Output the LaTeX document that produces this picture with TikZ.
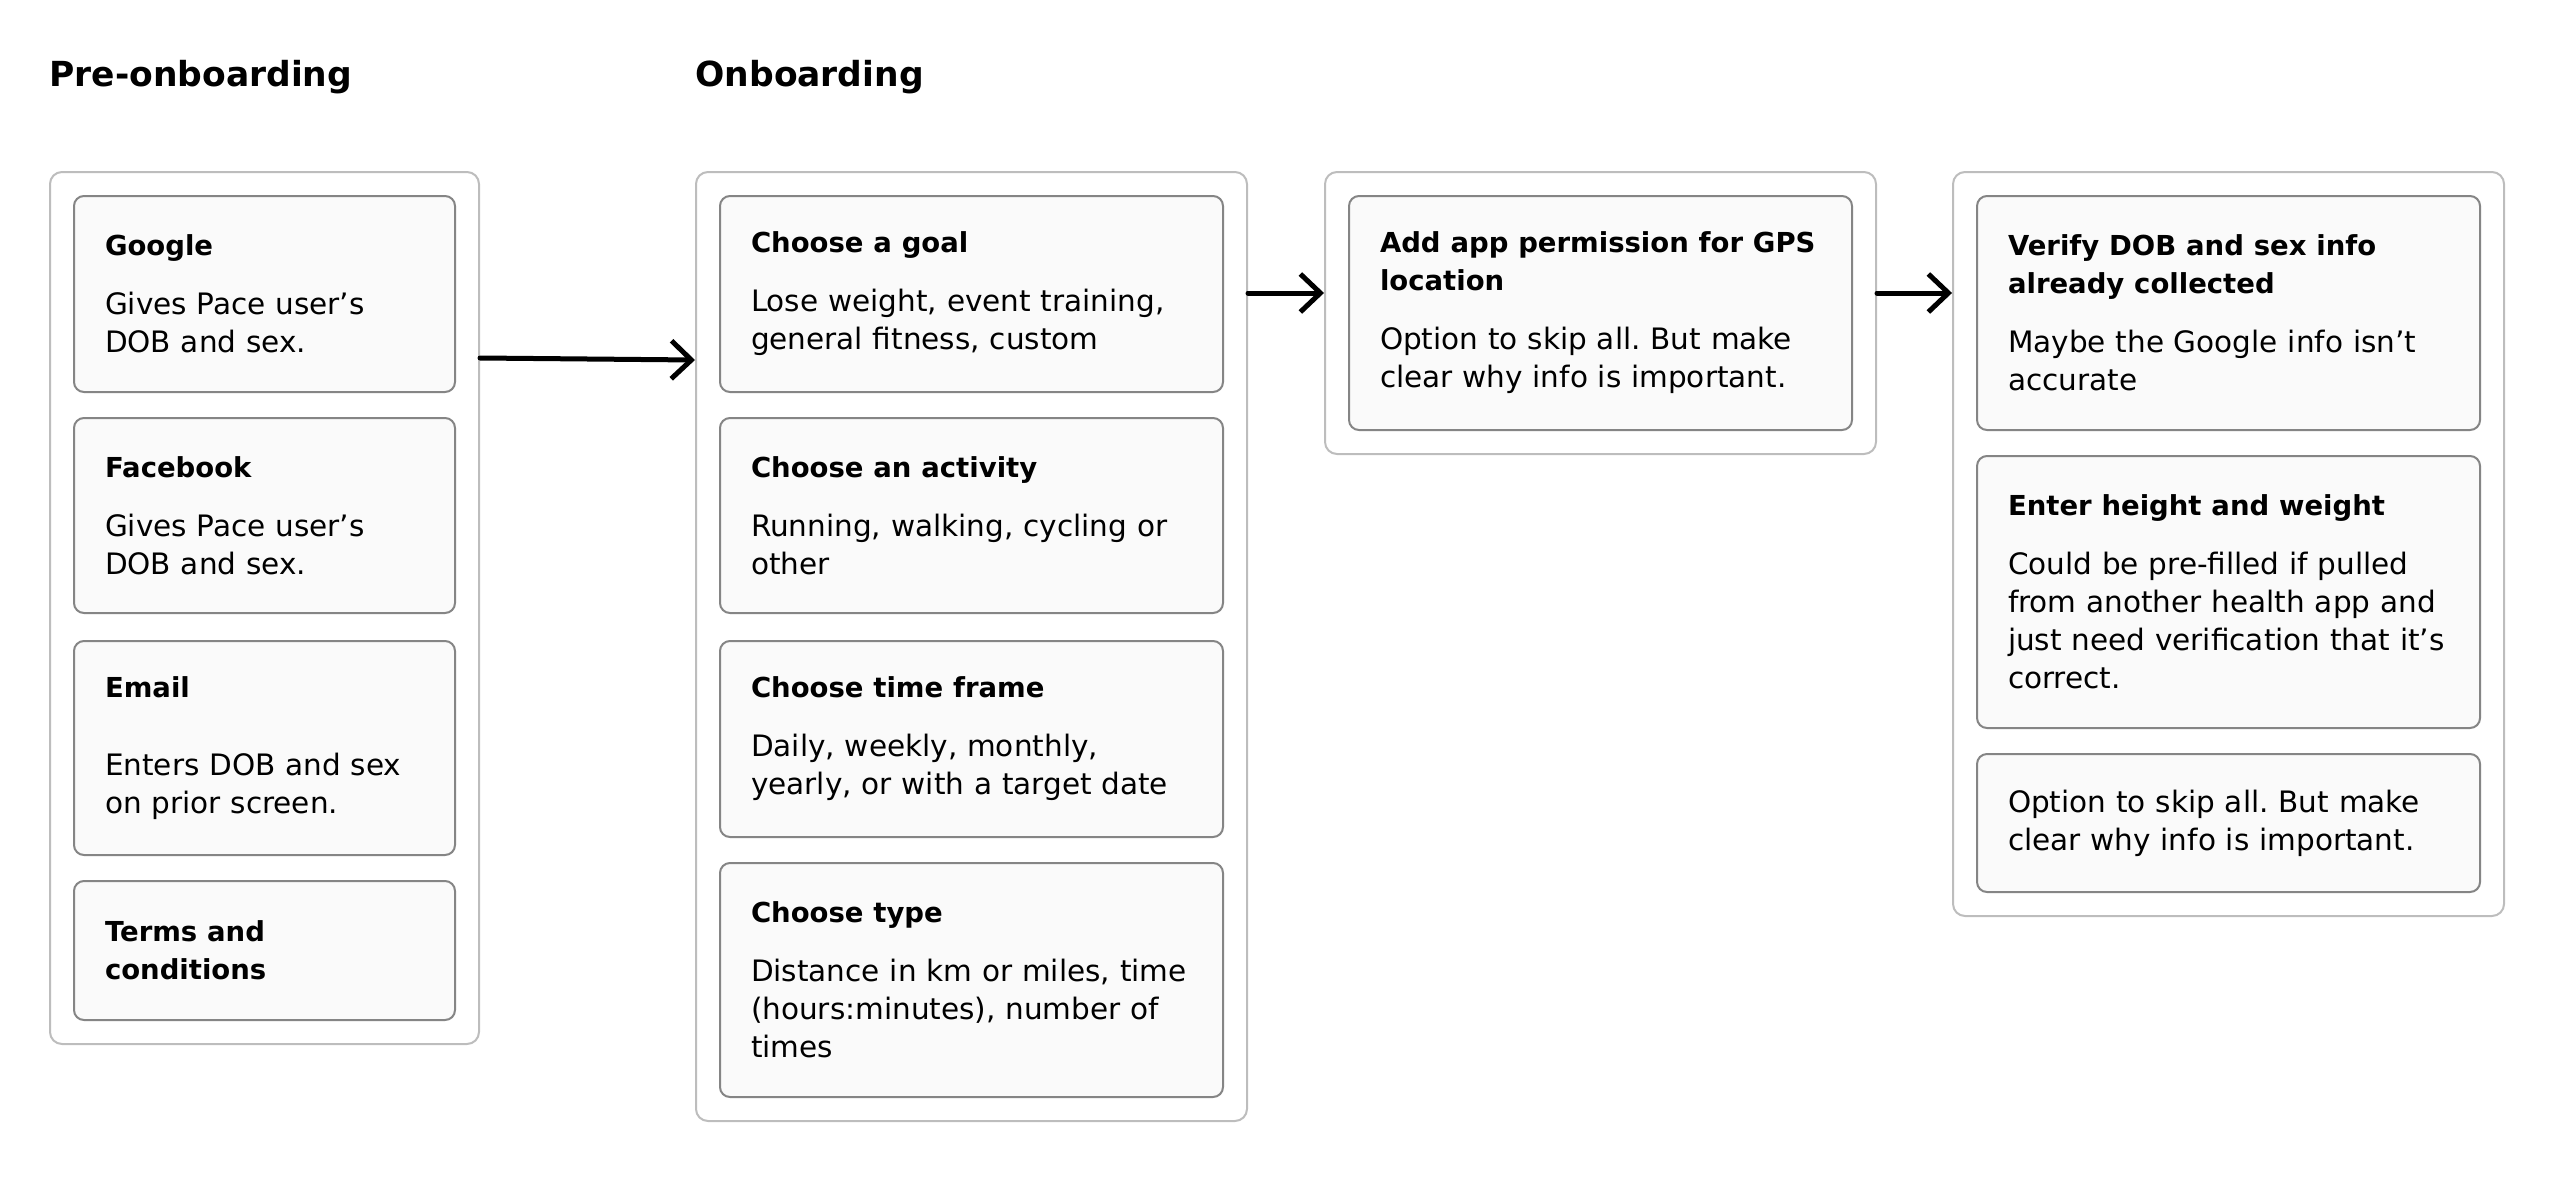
\documentclass[tikz,border=0pt]{standalone}
\usepackage{fontspec}
\setmainfont{DejaVu Sans}
\usepackage{tikz}
\usetikzlibrary{arrows.meta, positioning, fit, backgrounds}
\definecolor{cardline}{HTML}{858585}
\definecolor{cardfill}{HTML}{FAFAFA}
\definecolor{groupline}{HTML}{BDBDBD}
\newcommand{\steptitle}[1]{{\fontsize{13.75}{19}\selectfont\bfseries #1}}
\frenchspacing

\begin{document}
\begin{tikzpicture}[
        node distance = 12pt,
        heading/.style = {anchor=base west, inner sep=0pt, font=\fontsize{17.25}{21}\selectfont\bfseries},
        card/.style = {draw=cardline, fill=cardfill, rectangle, rounded corners=5pt, line width=1pt, inner xsep=15.5pt, inner ysep=0pt, align=left, font=\fontsize{14.75}{19}\selectfont},
        prebox/.style = {card, text width=159.5pt},
        stepbox/.style = {card, text width=220.5pt},
        group/.style = {draw=groupline, fill=white, rounded corners=6pt, line width=1pt, inner sep=11.5pt},
        arrow/.style = {draw=black, -{Straight Barb[length=10pt, width=19pt]}, line width=2.5pt, line cap=round}
    ]
    \useasboundingbox (0,0) rectangle (1276pt,-594pt);

        % pre-onboarding column
        \node (google) [prebox, anchor=north west, minimum height=98pt] at (36.5pt,-97.5pt) {\steptitle{Google}\\[10.5pt]Gives Pace user’s\\DOB and sex.};
        \node (facebook) [prebox, below=of google, minimum height=97.5pt] {\steptitle{Facebook}\\[10.5pt]Gives Pace user’s\\DOB and sex.};
        \node (email) [prebox, below=13pt of facebook, minimum height=107pt] {\steptitle{Email}\\[20pt]Enters DOB and sex\\on prior screen.};
        \node (terms) [prebox, below=of email, minimum height=69.5pt] {\steptitle{Terms and}\\\steptitle{conditions}};

        % onboarding column
        \node (goal) [stepbox, anchor=north west, minimum height=98pt] at (359.5pt,-97.5pt) {\steptitle{Choose a goal}\\[10.5pt]Lose weight, event training,\\general fitness, custom};
        \node (activity) [stepbox, below=of goal, minimum height=97.5pt] {\steptitle{Choose an activity}\\[10.5pt]Running, walking, cycling or\\other};
        \node (timeframe) [stepbox, below=13pt of activity, minimum height=98pt] {\steptitle{Choose time frame}\\[10.5pt]Daily, weekly, monthly,\\yearly, or with a target date};
        \node (ctype) [stepbox, below=of timeframe, minimum height=117pt] {\steptitle{Choose type}\\[10.5pt]Distance in km or miles, time\\(hours:minutes), number of\\times};

        % gps
        \node (gpsperm) [stepbox, anchor=north west, minimum height=117pt] at (674pt,-97.5pt) {\steptitle{Add app permission for~GPS}\\\steptitle{location}\\[10.5pt]Option to skip all. But make\\clear why info is important.};

        % verification column
        \node (verify) [stepbox, anchor=north west, minimum height=117pt] at (988pt,-97.5pt) {\steptitle{Verify DOB and sex info}\\\steptitle{already collected}\\[10.5pt]Maybe the Google info isn’t\\accurate};
        \node (hw) [stepbox, below=of verify, minimum height=136pt] {\steptitle{Enter height and weight}\\[10.5pt]Could be pre-filled if pulled\\from another health app and\\just need verification that it’s\\correct.};
        \node (skip) [stepbox, below=of hw, minimum height=69pt] {Option to skip all. But make\\clear why info is important.};

        \begin{scope}[on background layer]
            \node (pre) [group, fit=(google)(terms)] {};
            \node (onb) [group, fit=(goal)(ctype)] {};
            \node (gps) [group, fit=(gpsperm)] {};
            \node (verif) [group, fit=(verify)(skip)] {};
        \end{scope}

        \node (pretitle) [heading] at ([yshift=42pt]pre.north west) {Pre-onboarding};
        \node (onbtitle) [heading] at ([yshift=42pt]onb.north west) {Onboarding};

        \draw [arrow] ([yshift=-93.5pt]pre.north east) -- ([yshift=-94.5pt]onb.north west);
        \draw [arrow] ([yshift=-61pt]onb.north east) -- ([yshift=-61pt]gps.north west);
        \draw [arrow] ([yshift=-61pt]gps.north east) -- ([yshift=-61pt]verif.north west);

\end{tikzpicture}
\end{document}
